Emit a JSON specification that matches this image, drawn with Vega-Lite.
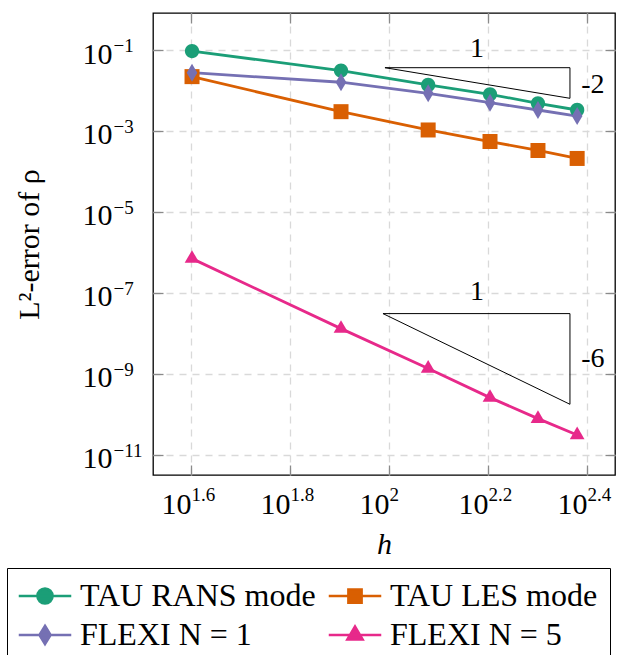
{
  "$schema": "https://vega.github.io/schema/vega-lite/v6.json",
  "autosize": "none",
  "width": 462,
  "height": 462,
  "padding": {"left": 153, "top": 13, "right": 6, "bottom": 180},
  "config": {
    "font": "Liberation Serif",
    "view": {"stroke": "black", "strokeWidth": 1.3},
    "axis": {"labelOverlap": false, "labelFlush": false, "labelColor": "black", "titleColor": "black", "titleFontWeight": "normal"}
  },
  "datasets": {
    "series": [
      {"series": "TAU RANS mode", "h": 40, "err": 0.094},
      {"series": "TAU RANS mode", "h": 80, "err": 0.031},
      {"series": "TAU RANS mode", "h": 120, "err": 0.0137},
      {"series": "TAU RANS mode", "h": 160, "err": 0.00805},
      {"series": "TAU RANS mode", "h": 200, "err": 0.00483},
      {"series": "TAU RANS mode", "h": 240, "err": 0.0033},
      {"series": "TAU LES mode", "h": 40, "err": 0.022},
      {"series": "TAU LES mode", "h": 80, "err": 0.0030},
      {"series": "TAU LES mode", "h": 120, "err": 0.00106},
      {"series": "TAU LES mode", "h": 160, "err": 0.00055},
      {"series": "TAU LES mode", "h": 200, "err": 0.00033},
      {"series": "TAU LES mode", "h": 240, "err": 0.00021},
      {"series": "FLEXI N = 1", "h": 40, "err": 0.0275},
      {"series": "FLEXI N = 1", "h": 80, "err": 0.016},
      {"series": "FLEXI N = 1", "h": 120, "err": 0.0085},
      {"series": "FLEXI N = 1", "h": 160, "err": 0.0050},
      {"series": "FLEXI N = 1", "h": 200, "err": 0.0033},
      {"series": "FLEXI N = 1", "h": 240, "err": 0.00234},
      {"series": "FLEXI N = 5", "h": 40, "err": 7.06e-7},
      {"series": "FLEXI N = 5", "h": 80, "err": 1.32e-8},
      {"series": "FLEXI N = 5", "h": 120, "err": 1.36e-9},
      {"series": "FLEXI N = 5", "h": 160, "err": 2.61e-10},
      {"series": "FLEXI N = 5", "h": 200, "err": 7.9e-11},
      {"series": "FLEXI N = 5", "h": 240, "err": 3.12e-11}
    ],
    "triangles": [
      {"tri": "a", "o": 0, "h": 98.15, "err": 0.03656},
      {"tri": "a", "o": 1, "h": 232.1, "err": 0.03656},
      {"tri": "a", "o": 2, "h": 232.1, "err": 0.006418},
      {"tri": "a", "o": 3, "h": 98.15, "err": 0.03656},
      {"tri": "b", "o": 0, "h": 97.25, "err": 3.10e-8},
      {"tri": "b", "o": 1, "h": 232.1, "err": 3.10e-8},
      {"tri": "b", "o": 2, "h": 232.1, "err": 1.786e-10},
      {"tri": "b", "o": 3, "h": 97.25, "err": 3.10e-8}
    ],
    "notes": [
      {"h": 150.6, "err": 0.1076, "t": "1"},
      {"h": 258.3, "err": 0.01406, "t": "-2"},
      {"h": 150.6, "err": 1.059e-7, "t": "1"},
      {"h": 258.3, "err": 2.31e-9, "t": "-6"}
    ]
  },
  "resolve": {"axis": {"x": "independent", "y": "independent"}},
  "layer": [
    {
      "data": {"name": "series"},
      "mark": {"type": "point", "filled": true, "size": 225, "strokeWidth": 2.7, "opacity": 0},
      "encoding": {
        "x": {
          "field": "h", "type": "quantitative",
          "scale": {"type": "log", "domain": [33.36, 286.2], "nice": false, "zero": false},
          "axis": null
        },
        "y": {
          "field": "err", "type": "quantitative",
          "scale": {"type": "log", "domain": [3.206e-12, 0.8196], "nice": false, "zero": false},
          "axis": null
        },
        "fill": {
          "field": "series", "type": "nominal",
          "scale": {
            "domain": ["TAU RANS mode", "FLEXI N = 1", "TAU LES mode", "FLEXI N = 5"],
            "range": ["#1b9e77", "#7570b3", "#d95f02", "#e7298a"]
          },
          "legend": {
            "orient": "none", "legendX": -146, "legendY": 555,
            "title": null, "columns": 2, "columnPadding": 7, "rowPadding": 7,
            "padding": 12, "strokeColor": "black", "fillColor": "white",
            "symbolSize": 225, "symbolOffset": 10, "labelOffset": 19, "symbolStrokeWidth": 2.7, "symbolOpacity": 1,
            "labelFont": "Liberation Serif", "labelFontSize": 32, "labelLimit": 400, "labelColor": "black"
          }
        },
        "stroke": {
          "field": "series", "type": "nominal",
          "scale": {
            "domain": ["TAU RANS mode", "FLEXI N = 1", "TAU LES mode", "FLEXI N = 5"],
            "range": ["#1b9e77", "#7570b3", "#d95f02", "#e7298a"]
          },
          "legend": {
            "orient": "none", "legendX": -146, "legendY": 555,
            "title": null, "columns": 2, "columnPadding": 7, "rowPadding": 7,
            "padding": 12, "strokeColor": "black", "fillColor": "white",
            "symbolSize": 225, "symbolOffset": 10, "labelOffset": 19, "symbolStrokeWidth": 2.7, "symbolOpacity": 1,
            "labelFont": "Liberation Serif", "labelFontSize": 32, "labelLimit": 400, "labelColor": "black"
          }
        },
        "shape": {
          "field": "series", "type": "nominal",
          "scale": {
            "domain": ["TAU RANS mode", "FLEXI N = 1", "TAU LES mode", "FLEXI N = 5"],
            "range": [
              "M-3.5,0H3.5M1,0A1,1,0,1,1,-1,0A1,1,0,1,1,1,0Z",
              "M-3.5,0H3.5M0,-1.2L0.73,0L0,1.2L-0.73,0Z",
              "M-3.5,0H3.5M-0.87,-0.87H0.87V0.87H-0.87Z",
              "M-3.5,0H3.5M0,-1.1L1,0.6H-1Z"
            ]
          },
          "legend": {
            "orient": "none", "legendX": -146, "legendY": 555,
            "title": null, "columns": 2, "columnPadding": 7, "rowPadding": 7,
            "padding": 12, "strokeColor": "black", "fillColor": "white",
            "symbolSize": 225, "symbolOffset": 10, "labelOffset": 19, "symbolStrokeWidth": 2.7, "symbolOpacity": 1,
            "labelFont": "Liberation Serif", "labelFontSize": 32, "labelLimit": 400, "labelColor": "black"
          }
        }
      }
    },
    {
      "data": {"name": "series"},
      "mark": {"type": "line", "strokeWidth": 2.8},
      "encoding": {
        "x": {
          "field": "h", "type": "quantitative",
          "axis": {
            "orient": "bottom", "values": [39.8107, 63.0957, 100, 158.489, 251.189],
            "domain": false, "ticks": false, "tickSize": 0, "grid": true,
            "gridColor": "#d9d9d9", "gridDash": [7, 6], "gridWidth": 1.3,
            "labelExpr": "'10'",
            "labelAlign": "right", "labelBaseline": "alphabetic", "labelPadding": 38, "labelDx": 4,
            "labelFontSize": 30,
            "title": "h", "titleFontSize": 30, "titleFontStyle": "italic",
            "titleBaseline": "alphabetic", "titleX": 231, "titleY": 78
          }
        },
        "y": {
          "field": "err", "type": "quantitative",
          "axis": {
            "orient": "left", "values": [0.1, 0.001, 1e-5, 1e-7, 1e-9, 1e-11],
            "domain": false, "ticks": false, "tickSize": 0, "grid": true,
            "gridColor": "#d9d9d9", "gridDash": [7, 6], "gridWidth": 1.3,
            "labelExpr": "'10'",
            "labelAlign": "right", "labelBaseline": "alphabetic", "labelPadding": 41, "labelOffset": 13,
            "labelFontSize": 30,
            "title": "L²-error of ρ", "titleFontSize": 30,
            "titleBaseline": "alphabetic", "titleAngle": -90, "titleX": -115, "titleY": 231
          }
        },
        "color": {
          "field": "series", "type": "nominal",
          "scale": {
            "domain": ["TAU RANS mode", "TAU LES mode", "FLEXI N = 1", "FLEXI N = 5"],
            "range": ["#1b9e77", "#d95f02", "#7570b3", "#e7298a"]
          },
          "legend": null
        },
        "detail": {"field": "series"}
      }
    },
    {
      "data": {"name": "series"},
      "transform": [{"filter": "datum.series === 'TAU RANS mode'"}],
      "mark": {"type": "point", "filled": true, "opacity": 1, "size": 225, "strokeWidth": 0, "color": "#1b9e77",
               "shape": "M0.95,0A0.95,0.95,0,1,1,-0.95,0A0.95,0.95,0,1,1,0.95,0Z"},
      "encoding": {
        "x": {
          "field": "h", "type": "quantitative",
          "axis": {
            "orient": "bottom", "values": [39.8107, 63.0957, 100, 158.489, 251.189],
            "domain": false, "ticks": false, "tickSize": 0, "grid": false,
            "labelExpr": "datum.value > 90 && datum.value < 110 ? '2' : format(log(datum.value) / LN10, '.1f')",
            "labelAlign": "left", "labelBaseline": "alphabetic", "labelPadding": 25, "labelDx": 4.5,
            "labelFontSize": 19, "title": null
          }
        },
        "y": {
          "field": "err", "type": "quantitative",
          "axis": {
            "orient": "left", "values": [0.1, 0.001, 1e-5, 1e-7, 1e-9, 1e-11],
            "domain": false, "ticks": false, "tickSize": 0, "grid": false,
            "labelExpr": "'\u2212' + format(-round(log(datum.value) / LN10), 'd')",
            "labelAlign": "left", "labelBaseline": "alphabetic", "labelPadding": 40, "labelOffset": 1.7,
            "labelFontSize": 19, "title": null
          }
        }
      }
    },
    {
      "data": {"name": "series"},
      "transform": [{"filter": "datum.series === 'TAU LES mode'"}],
      "mark": {"type": "point", "filled": true, "opacity": 1, "size": 225, "strokeWidth": 0, "color": "#d95f02",
               "shape": "M-1,-1H1V1H-1Z"},
      "encoding": {
        "x": {"field": "h", "type": "quantitative", "axis": null},
        "y": {"field": "err", "type": "quantitative", "axis": null}
      }
    },
    {
      "data": {"name": "series"},
      "transform": [{"filter": "datum.series === 'FLEXI N = 1'"}],
      "mark": {"type": "point", "filled": true, "opacity": 1, "size": 225, "strokeWidth": 0, "color": "#7570b3",
               "shape": "M0,-1.2L0.71,0L0,1.2L-0.71,0Z"},
      "encoding": {
        "x": {"field": "h", "type": "quantitative", "axis": null},
        "y": {"field": "err", "type": "quantitative", "axis": null}
      }
    },
    {
      "data": {"name": "series"},
      "transform": [{"filter": "datum.series === 'FLEXI N = 5'"}],
      "mark": {"type": "point", "filled": true, "opacity": 1, "size": 225, "strokeWidth": 0, "color": "#e7298a",
               "shape": "M0,-1.13L0.98,0.565H-0.98Z"},
      "encoding": {
        "x": {"field": "h", "type": "quantitative", "axis": null},
        "y": {"field": "err", "type": "quantitative", "axis": null}
      }
    },
    {
      "data": {"name": "triangles"},
      "mark": {"type": "line", "color": "black", "strokeWidth": 1},
      "encoding": {
        "x": {
          "field": "h", "type": "quantitative",
          "axis": {
            "orient": "bottom", "offset": -10, "values": [39.8107, 63.0957, 100, 158.489, 251.189],
            "domain": false, "ticks": true, "tickSize": 10, "tickColor": "#8a8a8a", "tickWidth": 1.3,
            "grid": false, "labels": false, "title": null
          }
        },
        "y": {
          "field": "err", "type": "quantitative",
          "axis": {
            "orient": "left", "offset": -10, "values": [0.1, 0.001, 1e-5, 1e-7, 1e-9, 1e-11],
            "domain": false, "ticks": true, "tickSize": 10, "tickColor": "#8a8a8a", "tickWidth": 1.3,
            "grid": false, "labels": false, "title": null
          }
        },
        "order": {"field": "o", "type": "quantitative"},
        "detail": {"field": "tri"}
      }
    },
    {
      "data": {"name": "notes"},
      "mark": {"type": "text", "fontSize": 28, "align": "center", "baseline": "middle", "color": "black"},
      "encoding": {
        "x": {
          "field": "h", "type": "quantitative",
          "axis": {
            "orient": "top", "offset": -10, "values": [39.8107, 63.0957, 100, 158.489, 251.189],
            "domain": false, "ticks": true, "tickSize": 10, "tickColor": "#8a8a8a", "tickWidth": 1.3,
            "grid": false, "labels": false, "title": null
          }
        },
        "y": {
          "field": "err", "type": "quantitative",
          "axis": {
            "orient": "right", "offset": -10, "values": [0.1, 0.001, 1e-5, 1e-7, 1e-9, 1e-11],
            "domain": false, "ticks": true, "tickSize": 10, "tickColor": "#8a8a8a", "tickWidth": 1.3,
            "grid": false, "labels": false, "title": null
          }
        },
        "text": {"field": "t"}
      }
    }
  ]
}
